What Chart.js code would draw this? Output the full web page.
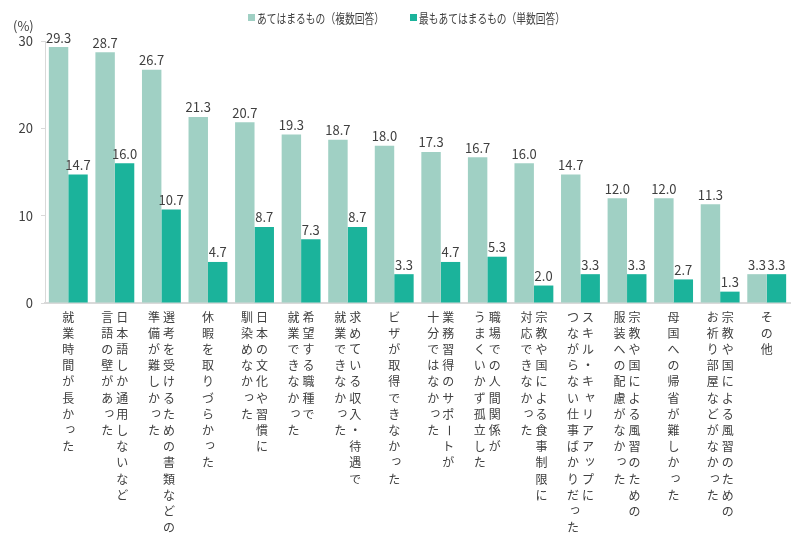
<!DOCTYPE html>
<html>
<head>
<meta charset="utf-8">
<script src="https://cdn.jsdelivr.net/npm/chart.js@4"></script>
<style>
  html, body { margin: 0; padding: 0; background: #fff; }
  #wrap { width: 800px; height: 544px; }
</style>
</head>
<body>
<div id="wrap"><canvas id="chart"></canvas></div>
<script>
// 縦書きラベル: 1列目が右、2列目が左
const categories = [
    ['就業時間が長かった'],
    ['日本語しか通用しないなど', '言語の壁があった'],
    ['選考を受けるための書類などの', '準備が難しかった'],
    ['休暇を取りづらかった'],
    ['日本の文化や習慣に', '馴染めなかった'],
    ['希望する職種で', '就業できなかった'],
    ['求めている収入・待遇で', '就業できなかった'],
    ['ビザが取得できなかった'],
    ['業務習得のサポートが', '十分ではなかった'],
    ['職場での人間関係が', 'うまくいかず孤立した'],
    ['宗教や国による食事制限に', '対応できなかった'],
    ['スキル・キャリアアップに', 'つながらない仕事ばかりだった'],
    ['宗教や国による風習のための', '服装への配慮がなかった'],
    ['母国への帰省が難しかった'],
    ['宗教や国による風習のための', 'お祈り部屋などがなかった'],
    ['その他']
];
const multiple = [29.3, 28.7, 26.7, 21.3, 20.7, 19.3, 18.7, 18.0, 17.3, 16.7, 16.0, 14.7, 12.0, 12.0, 11.3, 3.3];
const single = [14.7, 16.0, 10.7, 4.7, 8.7, 7.3, 8.7, 3.3, 4.7, 5.3, 2.0, 3.3, 3.3, 2.7, 1.3, 3.3];
const seriesNames = ['あてはまるもの（複数回答）', '最もあてはまるもの（単数回答）'];
const yTicks = [0, 10, 20, 30];

const colors = ['#a0d0c4', '#1bb39b'];
const textColor = '#404040';
const fontFamily = '"Noto Sans CJK JP", "Noto Sans", sans-serif';

const extras = {
    id: 'extras',
    afterDatasetsDraw(chart) {
        const ctx = chart.ctx;
        const x = chart.scales.x;
        ctx.save();

        // 値ラベル
        ctx.font = '13px ' + fontFamily;
        ctx.fillStyle = textColor;
        ctx.textAlign = 'center';
        ctx.textBaseline = 'bottom';
        chart.data.datasets.forEach((ds, di) => {
            chart.getDatasetMeta(di).data.forEach((bar, i) => {
                ctx.fillText(ds.data[i].toFixed(1), bar.x, bar.y - 3);
            });
        });

        // (%)
        ctx.textAlign = 'left';
        ctx.textBaseline = 'middle';
        ctx.fillText('(%)', 13, 26);

        // 凡例（元図は幅の狭いフォントなので幅を詰める）
        ctx.font = '13px ' + fontFamily;
        const legendX = [248, 410];
        const legendW = [127, 146];
        seriesNames.forEach((name, i) => {
            ctx.fillStyle = colors[i];
            ctx.fillRect(legendX[i], 14, 7, 7);
            ctx.fillStyle = textColor;
            ctx.fillText(name, legendX[i] + 9, 18, legendW[i]);
        });

        // 縦書きカテゴリ
        ctx.font = '12px ' + fontFamily;
        ctx.textAlign = 'center';
        ctx.textBaseline = 'middle';
        const small = 'ぁぃぅぇぉっゃゅょァィゥェォッャュョ';
        categories.forEach((cols, i) => {
            const cx = x.getPixelForValue(i);
            cols.forEach((col, ci) => {
                const colX = cols.length === 1 ? cx : cx + (ci === 0 ? 7.5 : -7.5);
                [...col].forEach((ch, k) => {
                    const cy = 317 + k * 16.2;
                    if (ch === 'ー') {
                        ctx.save();
                        ctx.translate(colX, cy);
                        ctx.rotate(Math.PI / 2);
                        ctx.fillText(ch, 0, 0);
                        ctx.restore();
                    } else if (small.includes(ch)) {
                        ctx.fillText(ch, colX + 2, cy - 2);
                    } else {
                        ctx.fillText(ch, colX, cy);
                    }
                });
            });
        });
        ctx.restore();
    }
};

new Chart(document.getElementById('chart'), {
    type: 'bar',
    data: {
        labels: categories.map(c => c.join('')),
        datasets: [{
            label: seriesNames[0],
            data: multiple,
            backgroundColor: colors[0],
            categoryPercentage: 0.835,
            barPercentage: 1.0
        }, {
            label: seriesNames[1],
            data: single,
            backgroundColor: colors[1],
            categoryPercentage: 0.835,
            barPercentage: 1.0
        }]
    },
    options: {
        responsive: true,
        maintainAspectRatio: false,
        animation: false,
        layout: {
            padding: { top: 41, right: 10, bottom: 0, left: 0 }
        },
        plugins: {
            legend: { display: false },
            tooltip: { enabled: false }
        },
        scales: {
            x: {
                ticks: { display: false },
                grid: { display: false },
                border: { color: '#d9d9d9', width: 2 },
                afterFit: s => { s.height = 241; }
            },
            y: {
                min: 0,
                max: 30,
                afterBuildTicks: s => { s.ticks = yTicks.map(v => ({ value: v })); },
                ticks: {
                    font: { size: 13, family: fontFamily },
                    color: textColor,
                    padding: 8
                },
                grid: {
                    drawOnChartArea: false,
                    tickLength: 4,
                    color: '#d9d9d9'
                },
                border: { color: '#d9d9d9' },
                afterFit: s => { s.width = 45; }
            }
        }
    },
    plugins: [extras]
});
</script>
</body>
</html>
